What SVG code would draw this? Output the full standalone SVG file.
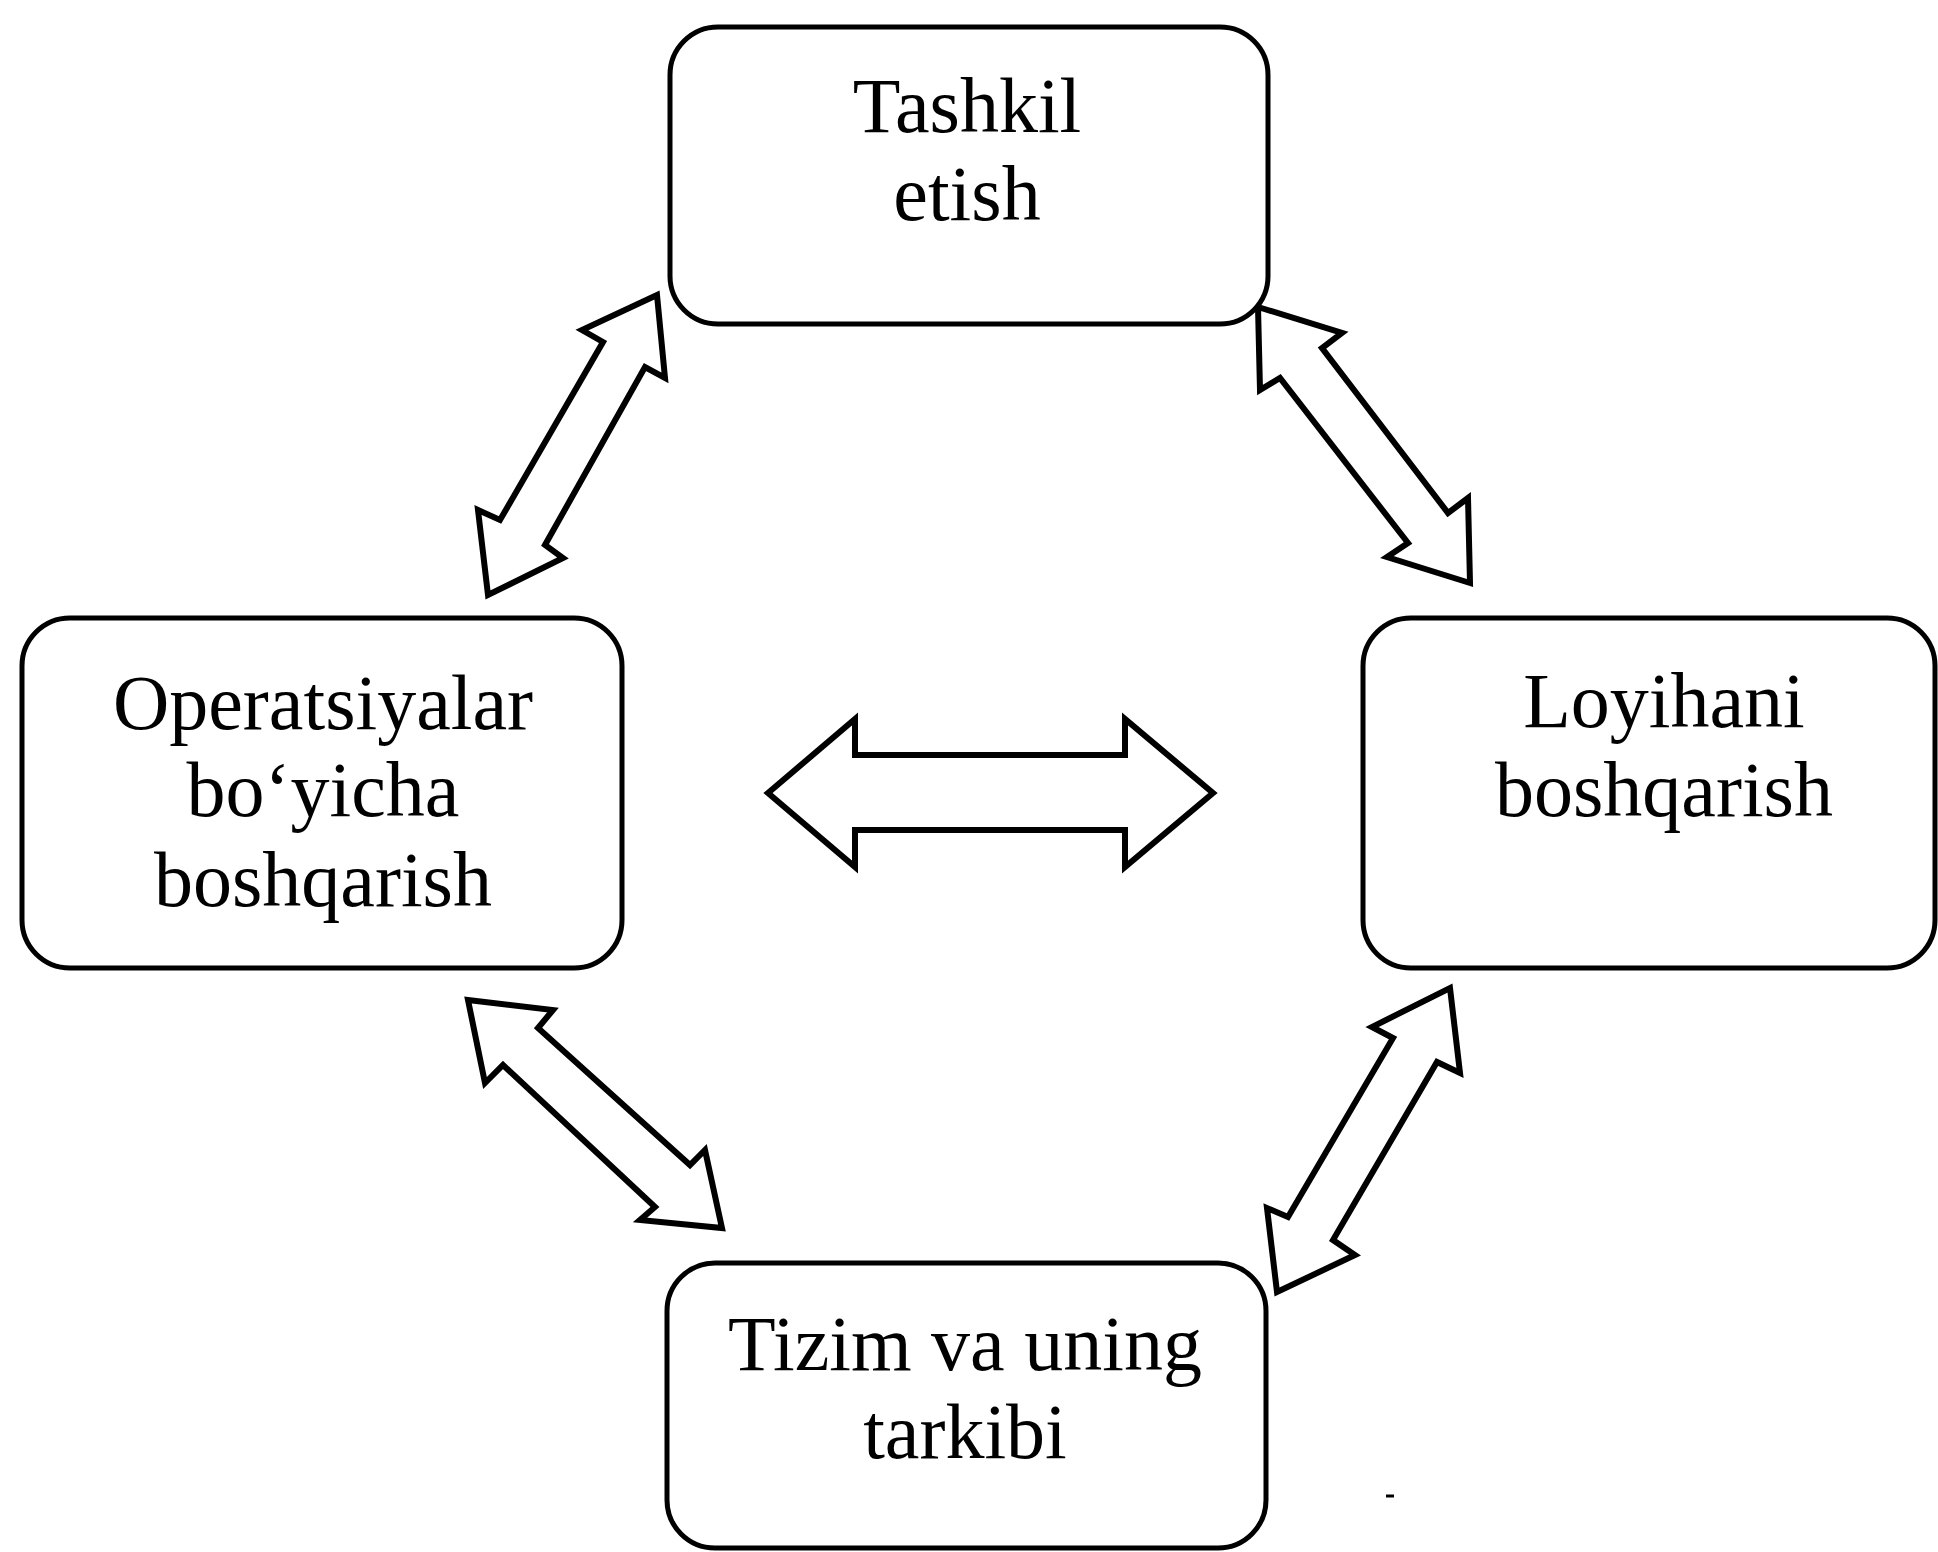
<svg xmlns="http://www.w3.org/2000/svg" width="1938" height="1552" viewBox="0 0 1938 1552">
<style>
.box{fill:#fff;stroke:#000;stroke-width:5}
.arr{fill:#fff;stroke:#000;stroke-width:6;stroke-linejoin:miter}
.t{font-family:"Liberation Serif","Times New Roman",serif;font-size:78px;fill:#000;text-anchor:middle}
</style>
<rect width="1938" height="1552" fill="#fff"/>
<g id="connectors">
<polygon class="arr" points="657,295 665,378 645,367 545,545 563,558 488,595 478,510 500,520 603,342 582,330"/>
<polygon class="arr" points="1258,307 1342,333 1322,348 1448,513 1468,498 1470,583 1387,557 1408,543 1280,378 1260,390"/>
<polygon class="arr" points="468,1000 553,1010 538,1028 690,1165 705,1150 722,1228 640,1220 655,1207 503,1065 485,1083"/>
<polygon class="arr" points="1450,988 1460,1073 1437,1062 1333,1240 1355,1255 1277,1292 1267,1208 1288,1217 1393,1038 1372,1027"/>
<polygon class="arr" points="768,793 855,719 855,755 1125,755 1125,719 1213,793 1125,867 1125,830 855,830 855,867"/>
</g>
<g id="node-tashkil">
<rect class="box" x="670" y="27" width="598" height="297" rx="48"/>
<text class="t" x="967" y="132">Tashkil</text>
<text class="t" x="967" y="220">etish</text>
</g>
<g id="node-operatsiyalar">
<rect class="box" x="22" y="618" width="600" height="350" rx="48"/>
<text class="t" x="323" y="729">Operatsiyalar</text>
<text class="t" x="323" y="816">bo‘yicha</text>
<text class="t" x="323" y="906">boshqarish</text>
</g>
<g id="node-loyihani">
<rect class="box" x="1363" y="618" width="572" height="350" rx="48"/>
<text class="t" x="1664" y="727">Loyihani</text>
<text class="t" x="1664" y="816">boshqarish</text>
</g>
<g id="node-tizim">
<rect class="box" x="667" y="1263" width="599" height="285" rx="48"/>
<text class="t" x="965" y="1370">Tizim va uning</text>
<text class="t" x="965" y="1458">tarkibi</text>
</g>
<line x1="1386" y1="1496" x2="1394" y2="1496" stroke="#000" stroke-width="3"/>
</svg>
